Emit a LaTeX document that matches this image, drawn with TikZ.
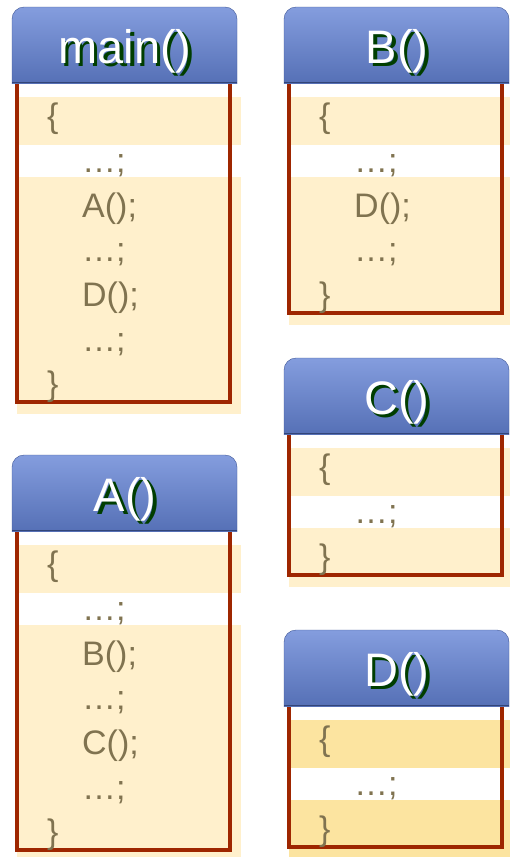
\documentclass[tikz,border=0pt]{standalone}
\usepackage{fontspec}
\setmainfont{Liberation Sans}
\usepackage{tikz}
\usetikzlibrary{positioning}
\definecolor{azulClaro}{RGB}{132, 157, 222}
\definecolor{azulOscuro}{RGB}{74, 101, 172}
\definecolor{azulBorde}{RGB}{62, 86, 150}
\definecolor{borde}{RGB}{158, 38, 0}
\definecolor{crema}{RGB}{255, 240, 204}
\definecolor{cremaOscura}{RGB}{252, 228, 160}
\definecolor{textoCodigo}{RGB}{128, 115, 80}
\definecolor{sombraVerde}{RGB}{0, 62, 0}
\tikzset{
  titulo/.style={anchor=base,inner sep=0pt,font=\fontsize{47}{47}\selectfont},
  linea/.style={anchor=base west,inner sep=0pt,text=textoCodigo,font=\fontsize{34}{34}\selectfont}
}
% #1 band colour, #2 name, #3 left, #4 top, #5 title, #6 rows, #7 lines
\newcommand\funcion[7][crema]{%
  \fill[#1] (#3+5,#4+90) rectangle (#3+229,#4+138);
  \fill[#1] (#3+5,#4+170) rectangle (#3+229,#4+95+44.5*#6);
  \draw[borde,line width=4pt] (#3+4.5,#4+76) -- (#3+4.5,#4+83+44.5*#6)
    -- (#3+217.5,#4+83+44.5*#6) -- (#3+217.5,#4+76);
  \begin{scope}
    \clip (#3-5,#4-5) rectangle (#3+235,#4+76);
    \shade[top color=azulClaro,bottom color=azulOscuro,draw=azulBorde,rounded corners=12pt]
      (#3,#4) rectangle (#3+225,#4+95);
  \end{scope}
  \draw[azulBorde!80!black,line width=1.5pt] (#3,#4+75.5) -- (#3+225,#4+75.5);
  \node[titulo,text=sombraVerde] (#2-s) at (#3+116.5,#4+59) {#5};
  \node[titulo,text=white] (#2-t) at (#3+113,#4+56) {#5};
  \foreach \ind/\txt [count=\k from 0] in {#7}
    \node[linea] (#2-\k) at (#3+35+35*\ind,#4+120.6+44.7*\k) {\txt};
}

\begin{document}
\begin{tikzpicture}[x=1pt,y=-1pt]
  \useasboundingbox (0,0) rectangle (509,857);
  \funcion{main}{12}{7}{main()}{7}{0/\{,1/…;,1/A();,1/…;,1/D();,1/…;,0/\}}
  \funcion{fA}{12}{455}{A()}{7}{0/\{,1/…;,1/B();,1/…;,1/C();,1/…;,0/\}}
  \funcion{fB}{284}{7}{B()}{5}{0/\{,1/…;,1/D();,1/…;,0/\}}
  \funcion{fC}{284}{358}{C()}{3}{0/\{,1/…;,0/\}}
  \funcion[cremaOscura]{fD}{284}{630}{D()}{3}{0/\{,1/…;,0/\}}
\end{tikzpicture}
\end{document}
